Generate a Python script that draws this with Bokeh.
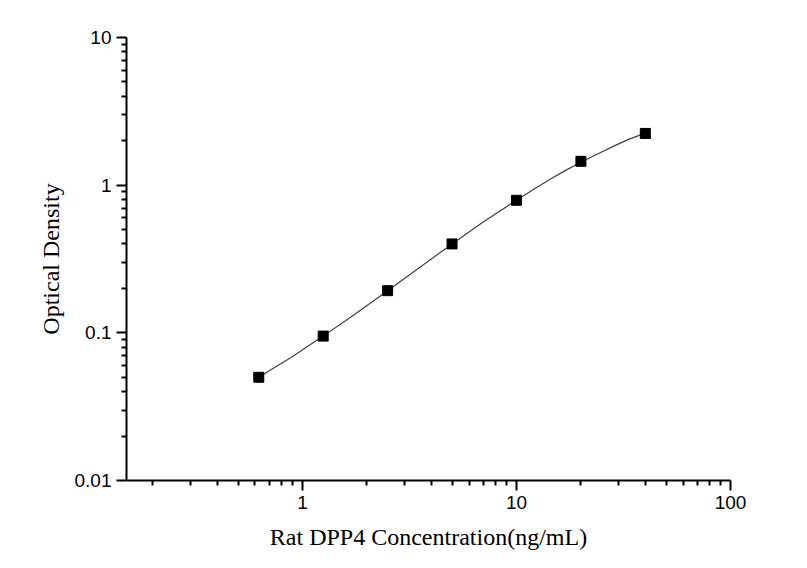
from bokeh.plotting import figure
from bokeh.models import FixedTicker, CustomJSTickFormatter, Range1d
from bokeh.embed import file_html
from bokeh.resources import INLINE

# Standard points
conc = [0.625, 1.25, 2.5, 5, 10, 20, 40]
od = [0.050, 0.095, 0.193, 0.40, 0.79, 1.45, 2.24]

# Fitted curve
curve_x = [0.625, 0.884, 1.25, 1.77, 2.5, 3.54, 5, 7.07, 10, 12.0, 14.1, 16.8, 20, 23.8, 28.3, 33.6, 40]
curve_y = [0.050, 0.068, 0.095, 0.1346, 0.193, 0.278, 0.40, 0.569, 0.79, 0.935, 1.08, 1.25, 1.43, 1.62, 1.83, 2.05, 2.25]

x_major = [1, 10, 100]
x_minor = [0.2, 0.3, 0.4, 0.5, 0.6, 0.7, 0.8, 0.9,
           2, 3, 4, 5, 6, 7, 8, 9,
           20, 30, 40, 50, 60, 70, 80, 90]
y_major = [0.01, 0.1, 1, 10]
y_minor = [0.02, 0.03, 0.04, 0.05, 0.06, 0.07, 0.08, 0.09,
           0.2, 0.3, 0.4, 0.5, 0.6, 0.7, 0.8, 0.9,
           2, 3, 4, 5, 6, 7, 8, 9]

p = figure(width=790, height=552, x_axis_type="log", y_axis_type="log",
           x_range=Range1d(0.1506, 100), y_range=Range1d(0.01, 10),
           output_backend="svg", toolbar_location=None,
           min_border_left=126, min_border_right=60, min_border_top=37, min_border_bottom=68)
p.outline_line_color = None
p.grid.visible = False
p.background_fill_color = "white"
p.border_fill_color = "white"

p.line(curve_x, curve_y, line_color="#404040", line_width=1.2)
p.scatter(conc, od, marker="square", size=10, fill_color="black", line_color="black")

p.xaxis.ticker = FixedTicker(ticks=x_major, minor_ticks=x_minor)
p.yaxis.ticker = FixedTicker(ticks=y_major, minor_ticks=y_minor)
p.xaxis.formatter = CustomJSTickFormatter(code="return String(tick);")
p.yaxis.formatter = CustomJSTickFormatter(code="return String(tick);")

for ax in (p.xaxis[0], p.yaxis[0]):
    ax.axis_line_width = 2
    ax.axis_line_color = "black"
    ax.major_tick_line_width = 2
    ax.minor_tick_line_width = 2
    ax.major_tick_line_color = "black"
    ax.minor_tick_line_color = "black"
    ax.major_tick_out = 10
    ax.major_tick_in = 0
    ax.minor_tick_out = 5
    ax.minor_tick_in = 0
    ax.major_label_text_font = "Liberation Sans"
    ax.major_label_text_font_size = "19px"
    ax.major_label_text_color = "black"
    ax.axis_label_text_font = "Liberation Serif"
    ax.axis_label_text_font_size = "24px"
    ax.axis_label_text_font_style = "normal"
    ax.axis_label_text_color = "black"
    ax.major_label_standoff = 5

p.xaxis.axis_label = "Rat DPP4 Concentration(ng/mL)"
p.yaxis.axis_label = "Optical Density"
p.xaxis.axis_label_standoff = 12
p.yaxis.axis_label_standoff = 8

open("out.html", "w").write(file_html(p, INLINE))
